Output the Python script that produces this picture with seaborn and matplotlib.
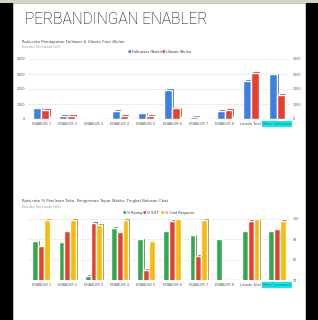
import matplotlib
matplotlib.use("Agg")
import matplotlib.pyplot as plt
import matplotlib.transforms as mtransforms
from matplotlib.patches import Rectangle
import seaborn as sns
import pandas as pd
import numpy as np

# ---------------- data ----------------
categories = ["ENABLER 1", "ENABLER 2", "ENABLER 3", "ENABLER 4", "ENABLER 5",
              "ENABLER 6", "ENABLER 7", "ENABLER 8", "Lazada Total", "Mitra Commerce"]
followers = [710, 200, 50, 530, 380, 1930, 150, 530, 2550, 2980]
ulasan = [600, 200, 50, 200, 200, 710, 50, 600, 3100, 1600]

rating = [89, 88.5, 72, 95.5, 90, 94, 92, 90, 94, 94]
sot = [86.5, 94, 98, 93.5, 75, 99, 82, 0, 99, 95]
chat = [99.5, 99.5, 97, 99.5, 89, 100, 99.5, 0, 100, 99]

series1 = ["Followers /Bulan", "Ulasan /Bulan"]
series2 = ["% Rating", "% SOT", "% Chat Response"]
ticks1 = [0, 1000, 2000, 3000, 4000]
ticks2 = [70, 80, 90, 100]

title = "PERBANDINGAN ENABLER"
sub1 = "Rata-rata Pendapatan Follower & Ulasan Foto /Bulan"
sub2 = "Rata-rata % Penilaian Toko, Pengiriman Tepat Waktu, Tingkat Balasan Chat"
note = "Data dari Toko Lazada Seller"

# ---------------- styling ----------------
sns.set_style("white")
plt.rcParams['font.family'] = ['DejaVu Sans']

W, H = 318, 320
fig = plt.figure(figsize=(W / 100, H / 100), dpi=100)
fig.patch.set_facecolor("black")

def fx(x):
    return x / W

def fy(y):
    return 1 - y / H

# card background
fig.patches.append(Rectangle((0, fy(3)), 1, 3 / H, transform=fig.transFigure,
                             facecolor="#d9d2c4", edgecolor="none", zorder=-10))
fig.patches.append(Rectangle((fx(13), 0), fx(305) - fx(13), fy(3), transform=fig.transFigure,
                             facecolor="white", edgecolor="#e4e4e4", lw=0.5, zorder=-10))

fig.text(fx(25), fy(20), title, fontsize=11.2, color="#000000", va="center", ha="left",
         fontweight="light", family=["Roboto", "DejaVu Sans"])

blue, red = "#3d7fe6", "#e8402f"
green, yellow = "#34a84f", "#f9bb06"

def darker(c, f=0.62):
    rgb = np.array(matplotlib.colors.to_rgb(c))
    return tuple(rgb * f)

def draw_chart(ax, df, order_hue, palette, width, ylim, ticks, left_ticks):
    ax.set_facecolor("none")
    ax.set_zorder(2)
    dark = [darker(c) for c in palette]
    sns.barplot(data=df, x="cat", y="val", hue="series", hue_order=order_hue,
                palette=dark, width=width, ax=ax, legend=False, saturation=1,
                errorbar=None, zorder=2)
    offset = mtransforms.ScaledTranslation(1.2 / 72, 1.2 / 72, fig.dpi_scale_trans)
    for p in ax.patches:
        p.set_transform(ax.transData + offset)
    sns.barplot(data=df, x="cat", y="val", hue="series", hue_order=order_hue,
                palette=palette, width=width, ax=ax, legend=False, saturation=1,
                errorbar=None, zorder=3)
    ax.set_ylim(*ylim)
    ax.set_yticks(ticks)
    ax.grid(axis="y", color="#e6e6e6", lw=0.5, zorder=0)
    ax.set_axisbelow(True)
    ax.axhline(ylim[0], color="#cfcfcf", lw=1.0, zorder=1)
    for s in ax.spines.values():
        s.set_visible(False)
    ax.set_xlabel("")
    ax.set_ylabel("")
    ax.tick_params(axis="both", length=0, labelsize=2.4, colors="#555555", pad=2)
    ax.set_xticks(range(len(categories)))
    ax.set_xticklabels(categories)
    lbl = ax.get_xticklabels()[-1]
    lbl.set_bbox(dict(facecolor="#00f0f0", edgecolor="none", pad=0.6))
    axr = ax.twinx()
    axr.set_zorder(1)
    axr.set_ylim(*ylim)
    axr.set_yticks(ticks)
    axr.tick_params(axis="both", length=0, labelsize=2.4, colors="#555555", pad=2)
    for s in axr.spines.values():
        s.set_visible(False)
    if not left_ticks:
        ax.set_yticklabels([])
    return axr

# ---------------- chart 1 ----------------
df1 = pd.DataFrame({
    "cat": categories * 2,
    "val": followers + ulasan,
    "series": [series1[0]] * len(categories) + [series1[1]] * len(categories),
})
ax1 = fig.add_axes([fx(28), fy(119), fx(290) - fx(28), (119 - 59) / H])
draw_chart(ax1, df1, series1, [blue, red], 0.6, (0, 4000), ticks1, True)

fig.text(fx(22), fy(42), sub1, fontsize=2.8, color="#444444", va="center")
fig.text(fx(22), fy(47), note, fontsize=2.0, color="#999999", va="center")
leg1 = [(fx(128), series1[0], blue), (fx(162), series1[1], red)]
for x, t, c in leg1:
    fig.text(x, fy(52), "\u25CF", fontsize=2.8, color=c, va="center", ha="left")
    fig.text(x + fx(4), fy(52), t, fontsize=2.6, color="#333333", va="center", ha="left")

# ---------------- chart 2 ----------------
df2 = pd.DataFrame({
    "cat": categories * 3,
    "val": rating + sot + chat,
    "series": [series2[0]] * len(categories) + [series2[1]] * len(categories)
              + [series2[2]] * len(categories),
})
ax2 = fig.add_axes([fx(28), fy(280), fx(290) - fx(28), (280 - 219) / H])
draw_chart(ax2, df2, series2, [green, red, yellow], 0.66, (70, 100), ticks2, False)

fig.text(fx(22), fy(201), sub2, fontsize=2.8, color="#444444", va="center")
fig.text(fx(22), fy(207), note, fontsize=2.0, color="#999999", va="center")
leg2 = [(fx(123), series2[0], green), (fx(143), series2[1], red), (fx(161), series2[2], yellow)]
for x, t, c in leg2:
    fig.text(x, fy(213), "\u25CF", fontsize=2.8, color=c, va="center", ha="left")
    fig.text(x + fx(4), fy(213), t, fontsize=2.4, color="#333333", va="center", ha="left")

fig.savefig("out.png", dpi=100, facecolor=fig.get_facecolor())
